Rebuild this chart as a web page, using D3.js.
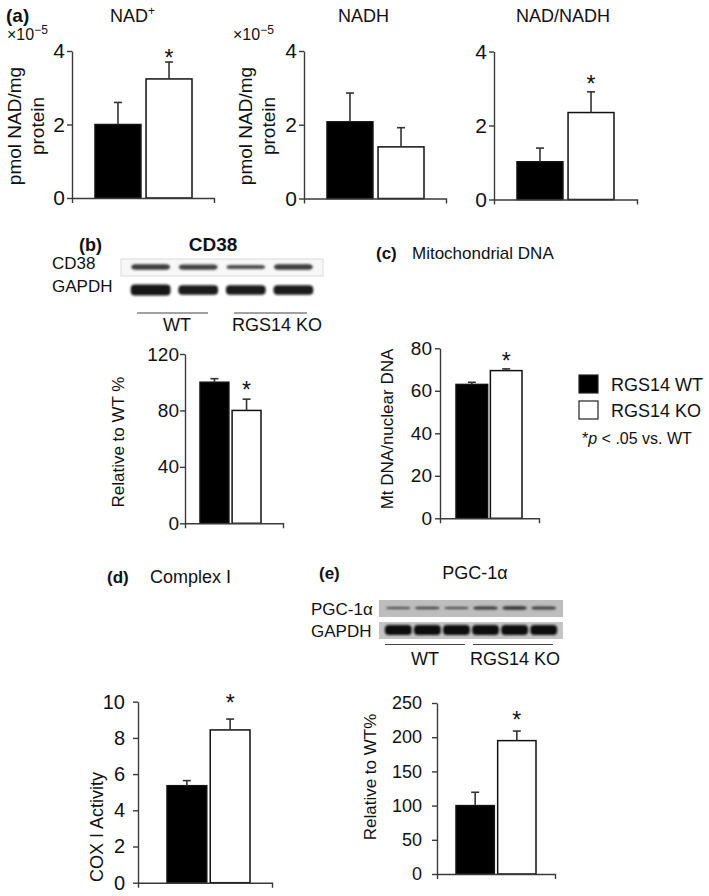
<!DOCTYPE html>
<html><head><meta charset="utf-8">
<script src="https://cdn.jsdelivr.net/npm/d3@7"></script>
<style>
html,body{margin:0;padding:0;background:#fff;}
svg{display:block;font-family:"Liberation Sans",Arial,sans-serif;}
</style></head>
<body>
<svg id="fig" width="709" height="896"></svg>
<script>
// ---------------- DATA ----------------
const groups = ["RGS14 WT", "RGS14 KO"];
const nadPlus = [2.0, 3.24];     const nadPlusErr = [0.6, 0.46];
const nadh = [2.08, 1.40];       const nadhErr = [0.78, 0.52];
const nadRatio = [1.02, 2.35];   const nadRatioErr = [0.37, 0.56];
const cd38 = [100, 80];          const cd38Err = [2.5, 8];
const mtDNA = [63, 69.5];        const mtDNAErr = [1.0, 0.8];
const complexI = [5.36, 8.44];   const complexIErr = [0.28, 0.6];
const pgc = [100, 195];          const pgcErr = [19.5, 14];
const ticksNad = [0, 2, 4];
const ticksCd38 = [0, 40, 80, 120];
const ticksMt = [0, 20, 40, 60, 80];
const ticksCox = [0, 2, 4, 6, 8, 10];
const ticksPgc = [0, 50, 100, 150, 200, 250];
// blot band intensities (lanes)
const cd38Lanes = ["WT1", "WT2", "KO1", "KO2"];
const cd38Band = [0.8, 0.75, 0.6, 0.8];
const cd38Gapdh = [1.1, 0.95, 0.95, 0.95];
const pgcLanes = ["WT1", "WT2", "WT3", "KO1", "KO2", "KO3"];
const pgcBand = [0.55, 0.6, 0.55, 0.8, 0.85, 0.75];
const pgcGapdh = [1, 1, 1, 1, 1, 1];

const svg = d3.select("#fig");
const FONT = "Liberation Sans, Arial, sans-serif";
const AXC = "#3a3a3a";

const defs = svg.append("defs");
defs.append("filter").attr("id", "blur").attr("x", "-20%").attr("y", "-80%").attr("width", "140%").attr("height", "260%")
  .append("feGaussianBlur").attr("stdDeviation", 1.3);

function txt(x, y, s, opts = {}) {
  const t = svg.append("text").attr("x", x).attr("y", y)
    .attr("font-size", opts.size || 17).attr("fill", opts.fill || "#111")
    .attr("font-weight", opts.bold ? "bold" : "normal")
    .attr("text-anchor", opts.anchor || "start");
  if (opts.baseline) t.attr("dominant-baseline", opts.baseline);
  if (opts.rotate) t.attr("transform", `rotate(-90,${x},${y})`);
  t.text(s);
  return t;
}

function barPanel(cfg) {
  const g = svg.append("g");
  const y = d3.scaleLinear().domain([0, cfg.max]).range([cfg.y0, cfg.yTop]);
  const xb = d3.scaleBand().domain(groups).range([cfg.b0, cfg.b1]).paddingInner(cfg.pad).paddingOuter(0);
  const xa = d3.scaleBand().domain(["all"]).range([cfg.ax, cfg.xEnd]);

  // bars
  g.selectAll("rect.bar").data(cfg.vals).join("rect").attr("class", "bar")
    .attr("x", (d, i) => xb(groups[i])).attr("width", xb.bandwidth())
    .attr("y", d => y(d)).attr("height", d => y(0) - y(d))
    .attr("fill", (d, i) => i === 0 ? "#000" : "#fff")
    .attr("stroke", "#111").attr("stroke-width", 1.5);

  // error bars
  const eb = g.selectAll("g.err").data(cfg.vals).join("g").attr("class", "err");
  eb.append("line")
    .attr("x1", (d, i) => xb(groups[i]) + xb.bandwidth() / 2)
    .attr("x2", (d, i) => xb(groups[i]) + xb.bandwidth() / 2)
    .attr("y1", d => y(d)).attr("y2", (d, i) => y(d + cfg.errs[i]))
    .attr("stroke", "#333").attr("stroke-width", 1.6);
  eb.append("line")
    .attr("x1", (d, i) => xb(groups[i]) + xb.bandwidth() / 2 - 4)
    .attr("x2", (d, i) => xb(groups[i]) + xb.bandwidth() / 2 + 4)
    .attr("y1", (d, i) => y(d + cfg.errs[i])).attr("y2", (d, i) => y(d + cfg.errs[i]))
    .attr("stroke", "#333").attr("stroke-width", 1.6);

  // significance star
  if (cfg.star) {
    const i = 1;
    g.append("text").attr("x", xb(groups[i]) + xb.bandwidth() / 2)
      .attr("y", y(cfg.vals[i] + cfg.errs[i]) - cfg.starGap)
      .attr("text-anchor", "middle").attr("font-size", 23).attr("font-family", FONT)
      .attr("fill", "#111").text("*");
  }

  // axes
  const ya = g.append("g").attr("transform", `translate(${cfg.ax},0)`)
    .call(d3.axisLeft(y).tickValues(cfg.ticks).tickSize(5).tickSizeOuter(0).tickPadding(cfg.tp)
      .tickFormat(d3.format("d")));
  ya.selectAll("text").attr("font-size", cfg.tickSize).attr("font-family", FONT).attr("fill", "#111");
  ya.selectAll("path,line").attr("stroke", AXC).attr("stroke-width", 1.4);

  const xg = g.append("g").attr("transform", `translate(0,${cfg.y0})`)
    .call(d3.axisBottom(xa).tickValues([]).tickSizeOuter(5));
  xg.selectAll("path").attr("stroke", AXC).attr("stroke-width", 1.4);
  return { y, xb };
}

// ---------------- Panel (a) ----------------
txt(6, 22, "(a)", { bold: true, size: 19 });
const t1 = txt(110, 22, "NAD", { size: 18 });
t1.append("tspan").attr("dy", -7).attr("font-size", 12).text("+");
txt(338, 22, "NADH", { size: 18 });
txt(516, 22, "NAD/NADH", { size: 18 });
const e1 = txt(7, 40, "×10", { size: 16 }); e1.append("tspan").attr("dy", -6).attr("font-size", 12).text("−5");
const e2 = txt(233, 40, "×10", { size: 16 }); e2.append("tspan").attr("dy", -6).attr("font-size", 12).text("−5");

barPanel({ vals: nadPlus, errs: nadPlusErr, max: 4, ticks: ticksNad, y0: 198, yTop: 51,
  ax: 72, xEnd: 214, b0: 95, b1: 192, pad: 0.1, star: true, starGap: -4, tickSize: 21, tp: 2 });
barPanel({ vals: nadh, errs: nadhErr, max: 4, ticks: ticksNad, y0: 198.5, yTop: 51,
  ax: 304, xEnd: 446, b0: 327, b1: 424, pad: 0.1, star: false, tickSize: 21, tp: 2 });
barPanel({ vals: nadRatio, errs: nadRatioErr, max: 4, ticks: ticksNad, y0: 199.5, yTop: 51.5,
  ax: 494, xEnd: 637, b0: 517, b1: 614, pad: 0.1, star: true, starGap: 0, tickSize: 21, tp: 2 });

txt(14, 126, "pmol NAD/mg", { rotate: true, anchor: "middle", baseline: "central", size: 19 });
txt(37, 126, "protein", { rotate: true, anchor: "middle", baseline: "central", size: 19 });
txt(245, 126, "pmol NAD/mg", { rotate: true, anchor: "middle", baseline: "central", size: 19 });
txt(268, 126, "protein", { rotate: true, anchor: "middle", baseline: "central", size: 19 });

// ---------------- Panel (b) ----------------
txt(79, 251, "(b)", { bold: true, size: 18 });
txt(213, 251, "CD38", { bold: true, size: 19, anchor: "middle" });
txt(52, 269, "CD38", { size: 17 });
txt(52, 292, "GAPDH", { size: 17 });

function blot(lanes, vals, x0, x1, cy, h, w, fillC, boxCfg) {
  const xs = d3.scaleBand().domain(lanes).range([x0, x1]).padding(0.12);
  if (boxCfg) {
    svg.append("rect").attr("x", x0 - 3).attr("y", boxCfg.y).attr("width", x1 - x0 + 6).attr("height", boxCfg.h)
      .attr("fill", boxCfg.fill).attr("stroke", boxCfg.stroke || "none").attr("stroke-width", 1);
  }
  svg.selectAll(null).data(vals).join("rect")
    .attr("x", (d, i) => xs(lanes[i]) + (xs.bandwidth() - xs.bandwidth() * w) / 2)
    .attr("width", xs.bandwidth() * w)
    .attr("y", d => cy - h * d / 2).attr("height", d => h * d)
    .attr("rx", 4).attr("fill", fillC).attr("opacity", d => Math.min(1, 0.55 + 0.45 * d))
    .attr("filter", "url(#blur)");
}
blot(cd38Lanes, cd38Band, 124, 320, 267, 7, 0.92, "#2a2a2a", { y: 259, h: 17, fill: "#f7f7f7", stroke: "#dcdcdc" });
blot(cd38Lanes, cd38Gapdh, 124, 320, 290, 10, 0.95, "#151515", null);

svg.append("line").attr("x1", 137).attr("x2", 208).attr("y1", 313).attr("y2", 313).attr("stroke", "#444").attr("stroke-width", 1);
svg.append("line").attr("x1", 234).attr("x2", 307).attr("y1", 313).attr("y2", 313).attr("stroke", "#444").attr("stroke-width", 1);
txt(177, 331, "WT", { size: 18, anchor: "middle" });
txt(277, 331, "RGS14 KO", { size: 18, anchor: "middle" });

barPanel({ vals: cd38, errs: cd38Err, max: 120, ticks: ticksCd38, y0: 523.3, yTop: 354,
  ax: 185, xEnd: 283, b0: 200, b1: 261, pad: 0.1, star: true, starGap: 1, tickSize: 19, tp: 1 });
txt(118, 442, "Relative to WT %", { rotate: true, anchor: "middle", baseline: "central", size: 17 });

// ---------------- Panel (c) ----------------
txt(376, 259, "(c)", { bold: true, size: 17 });
txt(412, 259, "Mitochondrial DNA", { size: 17 });
barPanel({ vals: mtDNA, errs: mtDNAErr, max: 80, ticks: ticksMt, y0: 518.3, yTop: 348.3,
  ax: 440, xEnd: 539, b0: 456, b1: 522, pad: 0.08, star: true, starGap: 0, tickSize: 19, tp: 3 });
txt(387, 429, "Mt DNA/nuclear DNA", { rotate: true, anchor: "middle", baseline: "central", size: 17 });

// legend
const leg = svg.append("g");
leg.selectAll("rect").data(groups).join("rect")
  .attr("x", 579).attr("y", (d, i) => 375 + i * 26).attr("width", 19).attr("height", 18)
  .attr("fill", (d, i) => i === 0 ? "#000" : "#fff").attr("stroke", "#222").attr("stroke-width", 1.2);
leg.selectAll("text").data(groups).join("text")
  .attr("x", 611).attr("y", (d, i) => 391 + i * 26).attr("font-size", 18).attr("font-family", FONT)
  .attr("fill", "#111").text(d => d);
const pt = txt(582, 444, "*", { size: 16 });
pt.append("tspan").attr("font-style", "italic").text("p");
pt.append("tspan").text(" < .05 vs. WT");

// ---------------- Panel (d) ----------------
txt(107, 583, "(d)", { bold: true, size: 17 });
txt(150, 583, "Complex I", { size: 18 });
barPanel({ vals: complexI, errs: complexIErr, max: 10, ticks: ticksCox, y0: 882.7, yTop: 701.7,
  ax: 138, xEnd: 272, b0: 167, b1: 250, pad: 0.08, star: true, starGap: 8, tickSize: 20, tp: 8 });
txt(97, 827, "COX I Activity", { rotate: true, anchor: "middle", baseline: "central", size: 18 });

// ---------------- Panel (e) ----------------
txt(319, 579, "(e)", { bold: true, size: 17 });
txt(475, 579, "PGC-1α", { size: 18, anchor: "middle" });
txt(311, 615, "PGC-1α", { size: 17 });
txt(311, 637, "GAPDH", { size: 17 });
blot(pgcLanes, pgcBand, 382, 560, 608, 4, 0.95, "#2a2a2a", { y: 600, h: 17, fill: "#bdbdbd" });
blot(pgcLanes, pgcGapdh, 382, 560, 630, 10, 1.05, "#0d0d0d", { y: 622, h: 17, fill: "#c4c4c4" });
svg.append("line").attr("x1", 385).attr("x2", 465).attr("y1", 644.5).attr("y2", 644.5).attr("stroke", "#444").attr("stroke-width", 1);
svg.append("line").attr("x1", 473).attr("x2", 553).attr("y1", 644.5).attr("y2", 644.5).attr("stroke", "#444").attr("stroke-width", 1);
txt(425, 665, "WT", { size: 18, anchor: "middle" });
txt(515, 665, "RGS14 KO", { size: 18, anchor: "middle" });

barPanel({ vals: pgc, errs: pgcErr, max: 250, ticks: ticksPgc, y0: 874, yTop: 703,
  ax: 437, xEnd: 555, b0: 456, b1: 536, pad: 0.08, star: true, starGap: 3, tickSize: 18, tp: 10 });
txt(370, 777, "Relative to WT%", { rotate: true, anchor: "middle", baseline: "central", size: 17 });
</script>
</body></html>
